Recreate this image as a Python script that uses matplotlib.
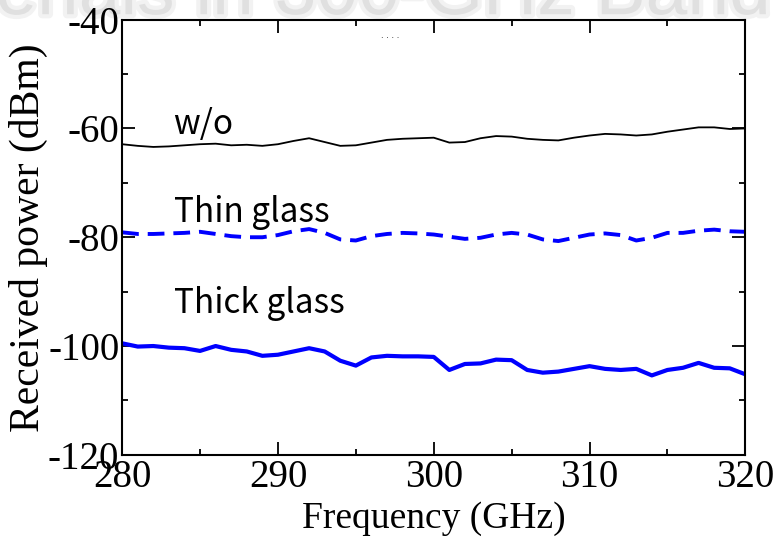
import numpy as np
import matplotlib
matplotlib.use("Agg")
import matplotlib.pyplot as plt
from matplotlib.ticker import MultipleLocator
import matplotlib.patheffects as pe

plt.rcParams['axes.unicode_minus'] = False

# frequency axis (GHz), 1 GHz step
freq = np.arange(280, 321)

# received power (dBm)
wo = [-62.9, -63.2, -63.4, -63.3, -63.1, -62.9, -62.8, -63.1, -63.0, -63.2,
      -62.9, -62.3, -61.8, -62.5, -63.2, -63.1, -62.6, -62.1, -61.9, -61.8,
      -61.7, -62.6, -62.5, -61.8, -61.4, -61.5, -61.9, -62.1, -62.2, -61.7,
      -61.3, -61.0, -61.1, -61.3, -61.1, -60.6, -60.2, -59.8, -59.8, -60.1,
      -60.0]
thin = [-79.1, -79.4, -79.4, -79.3, -79.2, -79.0, -79.4, -79.8, -80.0, -80.0,
        -79.6, -78.9, -78.5, -79.2, -80.4, -80.6, -79.8, -79.4, -79.2, -79.3,
        -79.5, -79.9, -80.3, -80.1, -79.5, -79.2, -79.5, -80.4, -80.7, -80.1,
        -79.5, -79.3, -79.6, -80.6, -80.1, -79.2, -79.2, -78.8, -78.6, -78.9,
        -79.0]
thick = [-99.5, -100.1, -100.0, -100.3, -100.4, -100.9, -100.0, -100.7, -101.0, -101.8,
         -101.6, -101.0, -100.4, -101.0, -102.7, -103.6, -102.1, -101.8, -101.9, -101.9,
         -102.0, -104.4, -103.3, -103.2, -102.5, -102.6, -104.4, -104.9, -104.7, -104.2,
         -103.7, -104.2, -104.4, -104.2, -105.4, -104.4, -104.0, -103.1, -104.0, -104.1,
         -105.2]

labels = ["w/o", "Thin glass", "Thick glass"]
label_pos = [(283.3, -61.0), (283.3, -77.2), (283.3, -94.0)]

fig = plt.figure(figsize=(7.78, 5.46), dpi=100)
ax = fig.add_axes([0.157, 0.167, 0.801, 0.797])

# faint slide title behind the chart, cut off by the top edge
fig.text(0.99, 0.974, "Materials in 300-GHz Band", ha="right", va="baseline",
         fontsize=54, family="Liberation Sans", color="#e0e0e0", zorder=-5,
         path_effects=[pe.withStroke(linewidth=6, foreground="#f2f2f2")])

ax.plot(freq, wo, color="black", lw=1.3)
ax.plot(freq, thin, color="#0000ff", lw=2.8, ls=(0, (4.3, 2.3)))
ax.plot(freq, thick, color="#0000ff", lw=3.0)

for txt, (x, y) in zip(labels, label_pos):
    ax.text(x, y, txt, fontsize=24, family=["Noto Sans CJK JP", "DejaVu Sans"],
            va="baseline", ha="left")

ax.text(296.6, -43.4, ". . . .", fontsize=6, color="black", ha="left")

ax.set_xlim(280, 320)
ax.set_ylim(-120, -40)
ax.xaxis.set_major_locator(MultipleLocator(10))
ax.xaxis.set_minor_locator(MultipleLocator(5))
ax.yaxis.set_major_locator(MultipleLocator(20))
ax.yaxis.set_minor_locator(MultipleLocator(10))

ax.tick_params(which="both", direction="in", top=True, right=True, width=1.3)
ax.tick_params(which="major", length=9.5)
ax.tick_params(which="minor", length=4.5)
ax.tick_params(axis="x", pad=3)
ax.tick_params(axis="y", pad=2)
for lab in ax.get_xticklabels() + ax.get_yticklabels():
    lab.set_family("Liberation Serif")
    lab.set_fontsize(28)
for sp in ax.spines.values():
    sp.set_linewidth(1.5)

ax.set_xlabel("Frequency (GHz)", family="Liberation Serif", fontsize=27, labelpad=4)
ax.set_ylabel("Received power (dBm)", family="Liberation Serif", fontsize=30, labelpad=0)

fig.savefig("out.png", dpi=100, facecolor="white")
